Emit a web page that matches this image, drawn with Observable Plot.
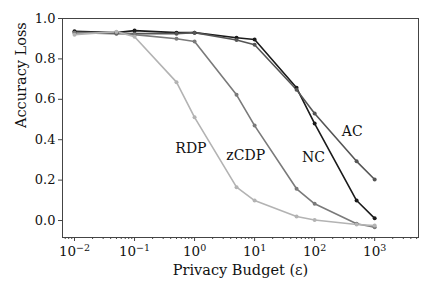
<!DOCTYPE html>
<html><head><meta charset="utf-8">
<script src="https://cdn.jsdelivr.net/npm/d3@7"></script>
<script src="https://cdn.jsdelivr.net/npm/@observablehq/plot@0.6"></script>
<style>body{margin:0;background:#fff}</style>
</head><body><div id="chart"></div>
<script>
const epsilons = [0.01, 0.05, 0.1, 0.5, 1, 5, 10, 50, 100, 500, 1000];
const ncValues   = [0.937, 0.93, 0.94, 0.93, 0.93, 0.905, 0.896, 0.657, 0.48, 0.099, 0.011];
const acValues   = [0.93, 0.925, 0.925, 0.925, 0.93, 0.894, 0.87, 0.647, 0.53, 0.293, 0.203];
const zcdpValues = [0.93, 0.93, 0.92, 0.90, 0.886, 0.622, 0.47, 0.157, 0.083, -0.016, -0.033];
const rdpValues  = [0.92, 0.935, 0.91, 0.685, 0.511, 0.165, 0.099, 0.02, 0.003, -0.02, -0.025];
const seriesNames = ["NC", "AC", "zCDP", "RDP"];
const seriesColors = ["#1a1a1a", "#555555", "#7a7a7a", "#b3b3b3"];
const labelX = [96, 422, 7.1, 0.87];
const labelY = [0.31, 0.44, 0.32, 0.355];
const majorTicks = [0.01, 0.1, 1, 10, 100, 1000];
const tickExponents = ["\u22122", "\u22121", "0", "1", "2", "3"];
const yTicks = [0, 0.2, 0.4, 0.6, 0.8, 1.0];

const allValues = [ncValues, acValues, zcdpValues, rdpValues];
const data = [];
seriesNames.forEach((s, i) => epsilons.forEach((e, j) => data.push({series: s, eps: e, loss: allValues[i][j]})));
const labels = seriesNames.map((s, i) => ({series: s, x: labelX[i], y: labelY[i]}));
const minorTicks = [];
for (let p = -3; p <= 3; p++) for (let k = 2; k <= 9; k++) {
  const v = k * Math.pow(10, p);
  if (v > Math.pow(10, -2.2) && v < Math.pow(10, 3.73)) minorTicks.push(v);
}
const color = {domain: seriesNames, range: seriesColors};
const font = "DejaVu Serif";

const chart = Plot.plot({
  width: 436, height: 288,
  marginLeft: 62, marginRight: 18, marginTop: 18, marginBottom: 51,
  style: {fontFamily: font, fontSize: "13px", color: "#111", background: "#fff"},
  x: {type: "log", domain: [Math.pow(10, -2.2), Math.pow(10, 3.73)]},
  y: {domain: [-0.084, 1.0]},
  color,
  marks: [
    Plot.frame({stroke: "#444", strokeWidth: 1}),
    Plot.axisX({ticks: minorTicks, tickSize: 2, tickFormat: () => "", stroke: "#444", ariaLabel: "x-minor"}),
    Plot.axisX({ticks: majorTicks, tickSize: 4, tickPadding: 5, tickFormat: d => tickExponents[majorTicks.indexOf(d)], fontSize: 13.5, stroke: "#444", fill: "#111", label: null}),
    Plot.axisY({ticks: yTicks, tickSize: 4, tickPadding: 3, tickFormat: d => d.toFixed(1), fontSize: 13, stroke: "#444", fill: "#111", label: null}),
    Plot.text(["Privacy Budget (ε)"], {frameAnchor: "bottom", dy: 37, fontSize: 14.5, fill: "#111"}),
    Plot.text(["Accuracy Loss"], {frameAnchor: "left", dx: -41, rotate: -90, fontSize: 14.5, fill: "#111"}),
    Plot.line(data, {x: "eps", y: "loss", z: "series", stroke: "series", strokeWidth: 1.6}),
    Plot.dot(data, {x: "eps", y: "loss", fill: "series", r: 2}),
    Plot.text(labels, {x: "x", y: "y", text: "series", fontSize: 14, fill: "#111"})
  ]
});
// render tick labels as 10 with a raised exponent
chart.querySelectorAll('g[aria-label="x-axis tick label"] text').forEach(t => {
  const exp = t.textContent;
  t.textContent = "";
  const base = document.createElementNS("http://www.w3.org/2000/svg", "tspan");
  base.textContent = "10";
  const sup = document.createElementNS("http://www.w3.org/2000/svg", "tspan");
  sup.textContent = exp;
  sup.setAttribute("font-size", "9.5");
  sup.setAttribute("dy", "-5");
  t.appendChild(base);
  t.appendChild(sup);
});
document.getElementById("chart").appendChild(chart);
</script>
</body></html>
